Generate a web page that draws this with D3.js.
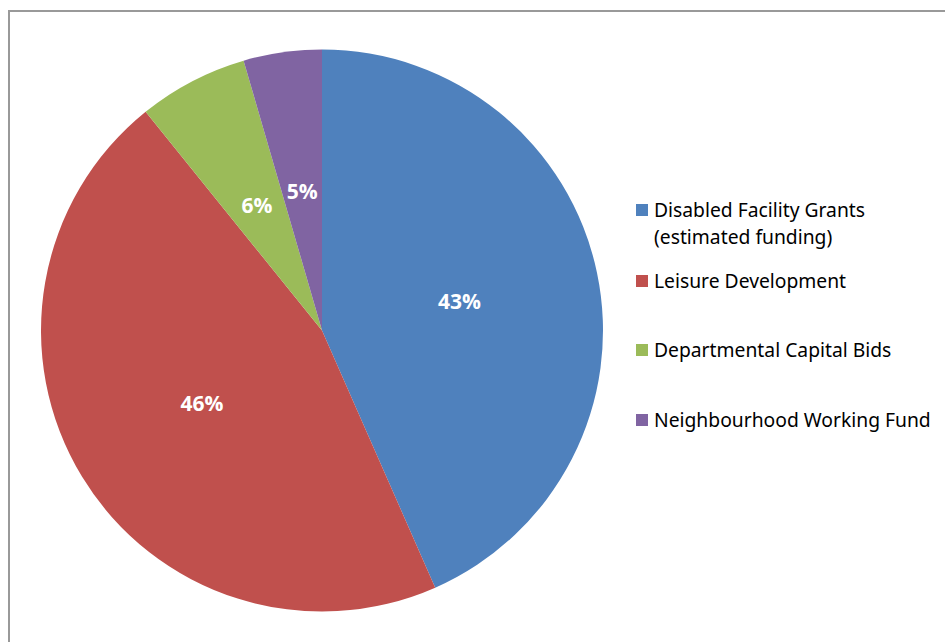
<!DOCTYPE html>
<html>
<head>
<meta charset="utf-8">
<script src="https://cdn.jsdelivr.net/npm/d3@7"></script>
<style>
  html, body { margin: 0; padding: 0; background: #fff; }
  svg { display: block; }
</style>
</head>
<body>
<script>
const categories = ["Disabled Facility Grants (estimated funding)", "Leisure Development", "Departmental Capital Bids", "Neighbourhood Working Fund"];
const legendLines = [["Disabled Facility Grants", "(estimated funding)"], ["Leisure Development"], ["Departmental Capital Bids"], ["Neighbourhood Working Fund"]];
const values = [43.4, 45.8, 6.3, 4.5];
const colors = ["#4F81BD", "#C0504D", "#9BBB59", "#8064A2"];

const W = 945, H = 642;
const svg = d3.select("body").append("svg").attr("width", W).attr("height", H);

// chart frame
svg.append("rect").attr("x", 9).attr("y", 11).attr("width", W + 20).attr("height", H + 20)
  .attr("fill", "none").attr("stroke", "#999").attr("stroke-width", 2);

const cx = 322, cy = 330.5, r = 281;
const total = d3.sum(values);
const pie = d3.pie().sort(null).value(d => d)(values);
const arc = d3.arc().innerRadius(0).outerRadius(r);

const g = svg.append("g").attr("transform", `translate(${cx},${cy})`);
g.selectAll("path").data(pie).join("path")
  .attr("d", arc)
  .attr("fill", (d, i) => colors[i]);

const fmt = v => Math.round(v / total * 100) + "%";
g.selectAll("text").data(pie).join("text")
  .attr("transform", d => `translate(${arc.centroid(d)})`)
  .attr("text-anchor", "middle")
  .attr("dy", "0.35em")
  .attr("fill", "#fff")
  .attr("font-family", "'Open Sans', 'Noto Sans', sans-serif")
  .attr("font-weight", "bold")
  .attr("font-size", 21)
  .text(d => fmt(d.value));

// legend
const legendY = [210, 281, 350, 420];
const lg = svg.append("g");
categories.forEach((c, i) => {
  const item = lg.append("g").attr("transform", `translate(636,${legendY[i]})`);
  item.append("rect").attr("x", 0).attr("y", -6).attr("width", 12).attr("height", 12).attr("fill", colors[i]);
  const t = item.append("text").attr("x", 18).attr("y", 0)
    .attr("font-family", "'Noto Sans', sans-serif").attr("font-size", 19.3).attr("fill", "#000");
  legendLines[i].forEach((line, j) => {
    t.append("tspan").attr("x", 18).attr("dy", j === 0 ? "0.35em" : 27).text(line);
  });
});
</script>
</body>
</html>
